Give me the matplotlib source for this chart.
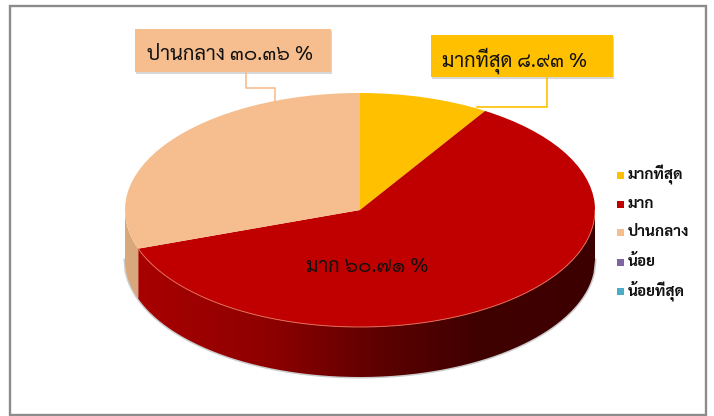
import matplotlib
matplotlib.use('Agg')
import matplotlib.pyplot as plt
import matplotlib.font_manager as fm
from matplotlib.patches import Rectangle, PathPatch
from matplotlib.path import Path
from matplotlib.colors import to_rgb
import numpy as np

W, H = 714, 416
categories = ['มากที่สุด', 'มาก', 'ปานกลาง', 'น้อย', 'น้อยที่สุด']
values = [8.93, 60.71, 30.36, 0, 0]
colors = ['#FFC000', '#C00000', '#F6BE8F', '#8064A2', '#4BACC6']
label_texts = ['มากที่สุด ๘.๙๓ %', 'มาก ๖๐.๗๑ %', 'ปานกลาง ๓๐.๓๖ %']

available = {f.name for f in fm.fontManager.ttflist}
FONT = next((n for n in ['Sarabun', 'TH Sarabun New', 'Noto Sans Thai', 'Anuphan'] if n in available), 'DejaVu Sans')

fig = plt.figure(figsize=(W / 100, H / 100), dpi=100, facecolor='white')
bg = fig.add_axes([0, 0, 1, 1])
bg.set_xlim(0, W)
bg.set_ylim(H, 0)
bg.axis('off')
bg.add_patch(Rectangle((9.5, 5.5), 696.5, 409, fc='white', ec='#8C8C8C', lw=1.7))

# Pie axes: unit circle maps to the top ellipse
CX, CY, RX, RY, DEPTH = 360, 210, 235, 117, 50
ylim_low = -1 - DEPTH / RY - 0.05
ylim_high = 1.03
ax = fig.add_axes([(CX - RX) / W, 1 - (CY - ylim_low * RY) / H, 2 * RX / W, (ylim_high - ylim_low) * RY / H])
ax.patch.set_alpha(0)

wedges, _ = ax.pie(values, colors=colors, startangle=90, counterclock=False, radius=1,
                   wedgeprops=dict(lw=0, zorder=5))
ax.set_aspect('auto')
ax.set_clip_on(False)

# Side wall built from the same values
d = DEPTH / RY
fracs = np.cumsum(values) / np.sum(values)
end_red = 90 - 360 * fracs[1]     # math angle where the red slice ends
xb = np.cos(np.radians(end_red))

def wall_path(x0, x1):
    x = np.linspace(x0, x1, 300)
    yt = -np.sqrt(np.clip(1 - x**2, 0, 1))
    return Path(np.column_stack([np.r_[x, x[::-1]], np.r_[yt, yt[::-1] - d]]))

# soft shadow along the bottom edge of the wall
xe = np.linspace(-1, 1, 400)
ye = -np.sqrt(np.clip(1 - xe**2, 0, 1)) - d
ax.plot(xe, ye, color='#9A9A9A', lw=2.2, alpha=0.5, zorder=1, clip_on=False)

# horizontal shading per pixel column
xs = np.linspace(-1, 1, 941)
red_stops_x = [xb, -0.4, 0.1, 0.5, 1.0]
red_stops_r = [0.66, 0.56, 0.36, 0.25, 0.24]
shade = np.zeros((1, len(xs), 3))
shade[0, :, 0] = np.interp(xs, red_stops_x, red_stops_r)
im = ax.imshow(shade, extent=(-1, 1, ylim_low, 0), aspect='auto', zorder=2, interpolation='bilinear')
im.set_clip_path(PathPatch(wall_path(xb, 1), transform=ax.transData))
tan_patch = PathPatch(wall_path(-1, xb), fc='#D9A77C', lw=0, zorder=2)
ax.add_patch(tan_patch)
ax.set_aspect('auto')
ax.set_xlim(-1, 1)
ax.set_ylim(ylim_low, ylim_high)

# Pale rim along the front of the red slice
th = np.radians(np.linspace(end_red, 0, 200))
ax.plot(np.cos(th), np.sin(th), color='#E06A55', lw=0.7, zorder=6, solid_capstyle='butt')

# Callouts
def box(x, y, w, h, fc, text, tx, ty, size):
    bg.add_patch(Rectangle((x + 1, y + 2), w, h, fc='#BDBDBD', ec='none', alpha=0.6))
    bg.add_patch(Rectangle((x, y), w, h, fc=fc, ec='none'))
    bg.text(tx, ty, text, fontsize=size, family=[FONT, 'DejaVu Sans'], ha='left', va='center', color='#111111', zorder=10)

box(135, 29, 196, 43, '#F6BE8F', label_texts[2], 147, 55, 14.5)
box(431, 35, 182, 42, '#FFC000', label_texts[0], 442, 61, 14.5)
# leader lines drawn above the pie axes
over = fig.add_axes([0, 0, 1, 1], zorder=5)
over.set_xlim(0, W)
over.set_ylim(H, 0)
over.axis('off')
over.plot([246, 246, 275, 275], [72, 88, 88, 101], color='#F6BE8F', lw=1.2)
over.plot([547, 547, 477], [77, 107, 107], color='#FFC000', lw=1.2)
over.text(367, 267, label_texts[1], fontsize=14.5, family=[FONT, 'DejaVu Sans'], ha='center', va='center', color='#111111')

# Legend
ly = [175, 204, 232, 262, 291]
for y, c, t in zip(ly, colors, categories):
    over.add_patch(Rectangle((617, y - 3.5), 7, 7, fc=c, ec='none'))
    over.text(628, y, t, fontsize=11, family=[FONT, 'DejaVu Sans'], weight='bold', ha='left', va='center', color='#111111')

fig.savefig('out.png', dpi=100)
